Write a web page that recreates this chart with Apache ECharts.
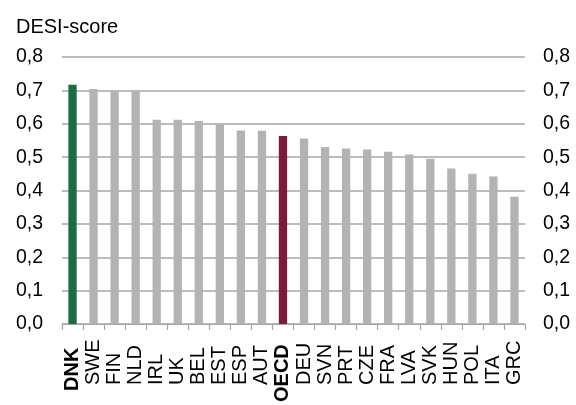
<!DOCTYPE html>
<html><head><meta charset="utf-8">
<script src="https://cdn.jsdelivr.net/npm/echarts@6/dist/echarts.min.js"></script>
<style>html,body{margin:0;padding:0;background:#fff}#c{width:576px;height:405px}</style>
</head><body><div id="c"></div>
<script>
const categories = ['DNK','SWE','FIN','NLD','IRL','UK','BEL','EST','ESP','AUT','OECD','DEU','SVN','PRT','CZE','FRA','LVA','SVK','HUN','POL','ITA','GRC'];
const values = [0.717,0.704,0.700,0.699,0.612,0.612,0.608,0.599,0.580,0.579,0.563,0.556,0.530,0.526,0.523,0.516,0.508,0.495,0.466,0.450,0.442,0.381];
const highlight = {DNK:'#1e6b42', OECD:'#7a1b3c'};
const yTitle = 'DESI-score';

const fmt = v => v.toFixed(1).replace('.', ',');
const FF = 'Liberation Sans';
const chart = echarts.init(document.getElementById('c'), null, {renderer:'canvas'});
const yAxisBase = {
  type:'value', min:0, max:0.8, interval:0.1,
  axisLine:{show:false}, axisTick:{show:false},
  axisLabel:{formatter:fmt, color:'#000', fontSize:19.5, fontFamily:FF}
};
chart.setOption({
  animation:false,
  grid:{left:62, right:51, top:57, bottom:74.5},
  title:{text:yTitle, left:11, top:12, textStyle:{fontSize:20, fontWeight:'normal', color:'#000', fontFamily:FF}},
  xAxis:{
    type:'category', data:categories,
    axisLine:{lineStyle:{color:'#a6a6a6', width:1.2}},
    axisTick:{show:true, alignWithLabel:false, length:6, lineStyle:{color:'#a6a6a6', width:1.2}},
    axisLabel:{
      rotate:90, interval:0, margin:78, align:'left', color:'#000', fontSize:20, fontFamily:FF,
      formatter: v => v === 'DNK' ? '{d|'+v+'}' : (v === 'OECD' ? '{o|'+v+'}' : '{n|'+v+'}'),
      rich:{
        n:{fontSize:20, fontFamily:FF, color:'#000', padding:[0,0,0,17]},
        d:{fontWeight:'bold', fontSize:20, fontFamily:FF, color:'#000', padding:[0,0,0,11]},
        o:{fontWeight:'bold', fontSize:20, fontFamily:FF, color:'#000', padding:[0,0,0,0]}
      }
    }
  },
  yAxis:[
    Object.assign({}, yAxisBase, {position:'left', axisLabel:Object.assign({}, yAxisBase.axisLabel, {margin:19}),
      splitLine:{lineStyle:{color:'#a6a6a6', width:1.5}}}),
    Object.assign({}, yAxisBase, {position:'right', axisLabel:Object.assign({}, yAxisBase.axisLabel, {margin:18}),
      splitLine:{show:false}})
  ],
  series:[{
    type:'bar', barWidth:8.3,
    data: values.map((v,i)=>({value:v, itemStyle:{color: highlight[categories[i]] || '#b3b3b3'}}))
  }]
});
</script></body></html>
